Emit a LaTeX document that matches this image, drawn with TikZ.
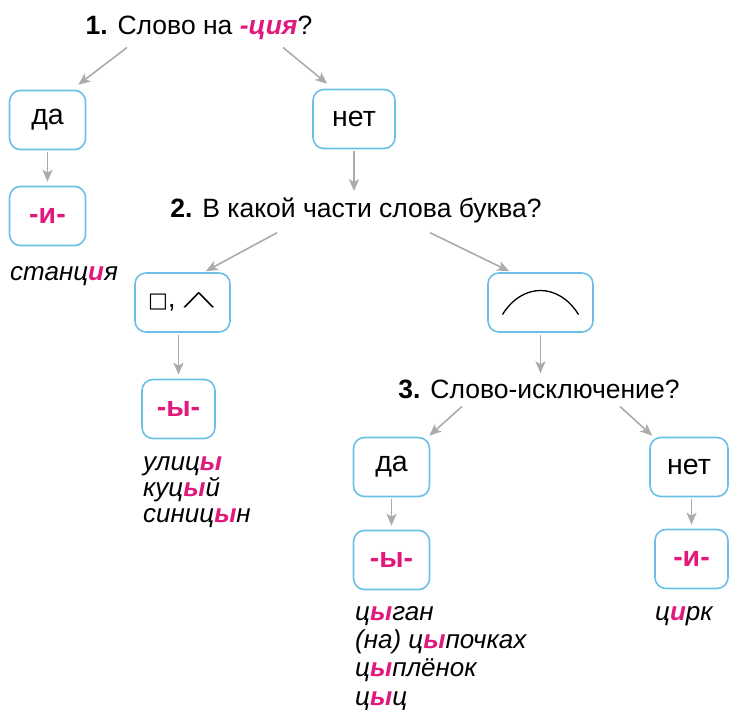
\documentclass[tikz,border=0pt]{standalone}
\usepackage{fontspec}
\usepackage{graphicx}
\setmainfont{Liberation Sans}
\newfontfamily\symfont{DejaVu Sans}
\usetikzlibrary{arrows.meta,calc}
\definecolor{boxblue}{HTML}{6CC0E5}
\definecolor{arrgray}{HTML}{ABABAB}
\definecolor{accent}{HTML}{E2197C}
\newcommand{\hl}[1]{\textcolor{accent}{\textbf{#1}}}

\begin{document}
\begin{tikzpicture}[
  x=1pt, y=1pt,
  box/.style={draw=boxblue, line width=1.6pt, rounded corners=11pt, minimum width=76pt, minimum height=59pt, align=center, font=\fontsize{28.5}{32}\selectfont},
  quest/.style={inner sep=2pt, anchor=base, font=\fontsize{26.5}{30}\selectfont},
  words/.style={inner sep=0pt, anchor=base west, align=left, font=\fontsize{26}{26}\selectfont\itshape},
  arr/.style={-{Stealth[length=12pt, width=10pt, inset=3pt]}, draw=arrgray, fill=arrgray, line width=1.6pt},
  down/.style={arr, shorten <=2pt, shorten >=4pt},
]
  \useasboundingbox (0,0) rectangle (729,-710);

  % questions
  \node[quest] (q1) at (199,-34)  {\textbf{1.} Слово на \textcolor{accent}{\textbf{\textit{-ция}}}?};
  \node[quest] (q2) at (356,-217) {\textbf{2.} В какой части слова буква?};
  \node[quest] (q3) at (539,-398) {\textbf{3.} Слово-исключение?};

  % answer boxes
  \node[box] (yes1) at (47.5,-120) {да};
  \node[box, minimum width=82pt] (no1) at (354,-119) {нет};
  \node[box] (i1) at (47.5,-216) {\hl{-и-}};
  \node[box, minimum width=95pt] (ending) at (182.5,-302.5) {{\symfont\fontsize{21}{24}\selectfont □},\,\scalebox{2.2}[1.0]{\(\wedge\)}};
  \node[box, minimum width=105pt] (root) at (540.5,-302.5) {};
  \node[box, minimum width=73pt] (y1) at (178.5,-409) {\hl{-ы-}};
  \node[box] (yes2) at (391.5,-467) {да};
  \node[box, minimum width=78pt] (no2) at (689,-467) {нет};
  \node[box] (y2) at (391.5,-560) {\hl{-ы-}};
  \node[box, minimum width=73pt] (i2) at (691.5,-559) {\hl{-и-}};

  % root sign
  \draw[line width=1.3pt] ([shift={(-38pt,-12pt)}]root.center) .. controls ([shift={(-18pt,20pt)}]root.center) and ([shift={(18pt,20pt)}]root.center) .. ([shift={(38pt,-12pt)}]root.center);

  % examples (base = last line)
  \node[words] (ex1) at (10,-280) {станц\hl{\textit{и}}я};
  \node[words] (ex2) at (143,-522) {улиц\hl{\textit{ы}}\\куц\hl{\textit{ы}}й\\синиц\hl{\textit{ы}}н};
  \node[words, font=\fontsize{26}{28.3}\selectfont\itshape] (ex3) at (355,-705) {ц\hl{\textit{ы}}ган\\(на) ц\hl{\textit{ы}}почках\\ц\hl{\textit{ы}}плёнок\\ц\hl{\textit{ы}}ц};
  \node[words] (ex4) at (655,-620) {ц\hl{\textit{и}}рк};

  % connectors
  \draw[arr] ([shift={(-72pt,-6pt)}]q1.south) -- ([shift={(-8pt,5pt)}]yes1.north east);
  \draw[arr] ([shift={(84pt,-6pt)}]q1.south) -- ([shift={(15pt,5pt)}]no1.north west);
  \draw[down] (yes1) -- (i1);
  \draw[down] (no1.south) -- (no1.south |- q2.north);
  \draw[arr] ([shift={(-79pt,-8pt)}]q2.south) -- ([shift={(-25pt,1pt)}]ending.north east);
  \draw[arr] ([shift={(74pt,-8pt)}]q2.south) -- ([shift={(22pt,1pt)}]root.north west);
  \draw[down] (ending.south -| y1.north) -- (y1.north);
  \draw[down] (root.south) -- (root.south |- q3.north);
  \draw[arr] ([shift={(-77pt,-6pt)}]q3.south) -- ([shift={(-1pt,1pt)}]yes2.north east);
  \draw[arr] ([shift={(81pt,-6pt)}]q3.south) -- ([shift={(3pt,1pt)}]no2.north west);
  \draw[down] (yes2) -- (y2);
  \draw[down] (no2.south -| i2.north) -- (i2.north);
\end{tikzpicture}
\end{document}
